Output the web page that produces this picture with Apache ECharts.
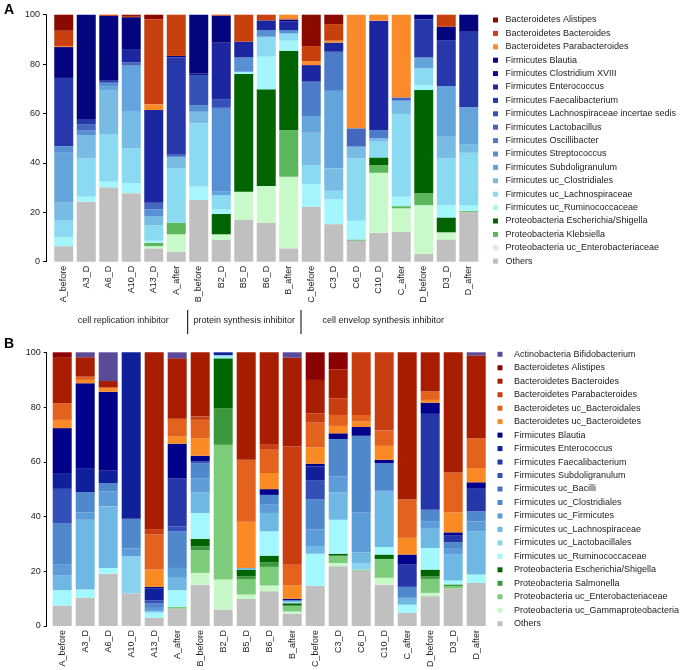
<!DOCTYPE html>
<html>
<head>
<meta charset="utf-8">
<script src="https://cdn.jsdelivr.net/npm/echarts@6/dist/echarts.min.js"></script>
<style>
  html, body { margin: 0; padding: 0; background: #fff; }
  #chart { width: 683px; height: 670px; }
</style>
</head>
<body>
<div id="chart"></div>
<script>
// samples (same for both panels)
const categories = ["A_before", "A3_D", "A6_D", "A10_D", "A13_D", "A_after", "B_before", "B2_D", "B5_D", "B6_D",
  "B_after", "C_before", "C3_D", "C6_D", "C10_D", "C_after", "D_before", "D3_D", "D_after"];
const yTicks = [0, 20, 40, 60, 80, 100];
const groupLabels = ["cell replication inhibitor", "protein synthesis inhibitor", "cell envelop synthesis inhibitor"];

// panel A, relative abundance (%)
const aAlistipes      = [6.5, 0, 0, 0.5, 1.8, 0, 0, 0, 0, 0, 0, 12.7, 3.8, 0, 0, 0, 0, 0, 0];
const aBacteroides    = [6.2, 0, 0.5, 0.5, 34.5, 16.7, 0, 0.4, 10.9, 2.3, 0, 6.1, 6.7, 0, 0, 0, 0, 4.9, 0];
const aParabacteroides = [0.4, 0, 0, 0, 2.3, 0, 0, 0, 0, 0, 1.9, 1.6, 0.8, 46.0, 2.4, 33.5, 0, 0, 0];
const aBlautia        = [12.5, 42.2, 26.0, 12.9, 0, 0.6, 23.8, 10.9, 0, 0, 0.9, 0, 0, 0, 0, 0, 1.9, 5.4, 6.9];
const aClostridium    = [0, 0, 0, 0, 0, 0, 0.6, 0, 0, 0, 0, 0, 0, 0, 0, 0, 0, 0, 0];
const aEnterococcus   = [0, 0, 0, 5.4, 37.5, 0, 0, 23.0, 6.4, 3.9, 3.4, 6.7, 3.7, 0, 44.3, 0, 0, 0, 0];
const aFaecali        = [27.6, 2.1, 1.0, 0, 0, 39.1, 0, 0, 0, 0, 0, 0, 0, 0, 0, 0, 15.4, 18.6, 30.6];
const aLachnoInc      = [0, 0, 0, 0, 0, 0, 12.2, 3.4, 0, 0, 0, 0, 0, 0, 0, 0, 0, 0, 0];
const aLactobacillus  = [0, 2.4, 0, 1.3, 2.7, 1.1, 0, 0, 0, 0, 0, 0, 0, 7.4, 0, 1.3, 0, 0, 0];
const aOscillibacter  = [0, 0, 0, 0, 0, 0, 0, 0, 0, 0, 0, 13.9, 15.8, 0, 3.4, 0, 0, 0, 0];
const aStreptococcus  = [2.7, 2.0, 1.4, 0, 2.7, 0, 2.7, 34.0, 5.8, 2.7, 1.4, 0, 0, 0, 0, 0, 0, 0, 0];
const aSubdo          = [20.2, 0, 1.6, 18.7, 0, 0, 0, 1.3, 0, 0, 0, 6.8, 31.4, 0, 0, 0, 4.4, 20.5, 14.9];
const aUcClos         = [7.0, 9.5, 17.8, 14.8, 3.7, 4.7, 4.7, 0, 0, 0, 0, 13.1, 9.1, 4.8, 1.3, 5.4, 0, 8.8, 3.5];
const aUcLachno       = [7.0, 15.5, 19.3, 14.2, 6.3, 22.0, 25.6, 5.8, 0, 8.1, 2.9, 7.7, 3.5, 25.2, 6.4, 33.5, 6.8, 18.9, 21.2];
const aUcRumino       = [3.6, 2.0, 2.3, 4.0, 0.8, 0, 5.4, 1.9, 0.9, 13.2, 4.1, 9.1, 10.0, 7.6, 0, 3.8, 2.0, 5.0, 2.3];
const aEscherichia    = [0, 0, 0, 0, 0, 0, 0, 8.2, 47.7, 39.2, 32.1, 0, 0, 0, 3.1, 0, 41.8, 6.0, 0];
const aKlebsiella     = [0, 0, 0, 0, 1.4, 4.7, 0, 0, 0, 0, 18.9, 0, 0, 0.5, 3.1, 0.9, 4.8, 0, 0.4];
const aUcEntero       = [0, 0, 0, 0, 0.9, 7.1, 0, 2.3, 11.4, 14.8, 29.0, 0, 0, 0, 24.3, 9.5, 19.8, 2.9, 0];
const aOthers         = [6.3, 24.3, 30.1, 27.7, 5.4, 4.0, 25.0, 8.8, 16.9, 15.8, 5.4, 22.3, 15.2, 8.5, 11.7, 12.1, 3.1, 9.0, 20.2];

// panel B, relative abundance (%)
const bBifido         = [0, 1.8, 10.5, 0, 0, 2.2, 0, 0, 0, 0, 2.0, 0, 0, 0, 0, 0, 0, 0, 1.2];
const bAlistipes      = [2.0, 0, 0, 0, 0, 0, 0, 0, 0, 0, 0, 10.1, 6.2, 0, 0, 0, 0, 0, 0];
const bBacteroides    = [16.6, 7.1, 2.4, 0, 64.6, 22.1, 23.5, 0, 39.3, 33.8, 32.4, 12.2, 10.6, 0, 0, 53.8, 14.3, 43.9, 30.2];
const bParabacteroides = [0, 0, 0, 0, 2.0, 0, 1.2, 0, 0, 1.8, 43.2, 3.4, 6.1, 22.9, 28.6, 0, 0, 0, 0];
const bUcBacteroidales = [6.1, 1.2, 0, 0, 12.8, 6.5, 6.7, 0, 22.6, 8.5, 7.6, 9.1, 4.0, 2.4, 5.6, 14.0, 3.1, 14.6, 10.9];
const bUcBacteroidetes = [3.0, 1.2, 1.5, 0, 6.3, 2.6, 6.4, 0, 16.9, 5.9, 4.9, 5.9, 2.7, 2.0, 5.1, 6.1, 1.0, 7.3, 5.2];
const bBlautia        = [16.7, 31.0, 28.9, 0, 0.5, 12.6, 2.1, 0, 0, 2.1, 0.4, 1.0, 2.1, 3.2, 1.2, 3.7, 4.1, 1.2, 2.1];
const bEnterococcus   = [5.5, 8.8, 4.5, 60.8, 4.4, 0, 0, 1.0, 0, 0, 0, 5.2, 0, 0, 0, 0, 0, 0, 0];
const bFaecali        = [0, 0, 0, 0, 0, 17.6, 0, 0, 0, 0, 0, 0, 0, 0, 0, 8.1, 35.0, 2.4, 8.5];
const bSubdo          = [12.7, 0, 0, 0, 1.2, 1.9, 0.6, 0, 0, 0, 0, 6.9, 0, 0, 0, 0, 0, 0, 0];
const bUcBacilli      = [0, 0, 0, 0, 0, 0, 0, 0, 0, 0, 0, 0, 0, 0, 0, 0, 0, 0, 0];
const bUcClos         = [14.8, 7.4, 3.0, 10.9, 1.6, 13.3, 5.5, 0, 0, 3.6, 0.5, 11.0, 13.7, 28.0, 10.1, 4.0, 4.2, 2.4, 3.7];
const bUcFirm         = [4.2, 2.7, 5.5, 2.8, 1.2, 3.6, 5.2, 0, 0, 3.0, 0, 6.0, 5.8, 14.6, 0, 0, 2.5, 2.1, 3.6];
const bUcLachno       = [5.3, 25.5, 22.5, 0, 0, 4.5, 7.5, 0, 0.6, 6.7, 0.4, 2.8, 10.0, 3.9, 20.5, 2.5, 7.3, 9.5, 15.8];
const bUcLactobac     = [0, 0, 0, 13.6, 0.6, 0, 0, 0.6, 0, 0, 0, 0, 0, 2.4, 0, 0, 0, 0, 0];
const bUcRumino       = [5.6, 3.0, 2.1, 0, 1.8, 6.1, 9.5, 0.6, 0, 8.9, 0.3, 11.7, 12.4, 0, 2.8, 3.0, 7.9, 1.4, 3.1];
const bEscherichia    = [0, 0, 0, 0, 0, 0, 2.7, 18.2, 2.4, 2.4, 0.8, 0, 0.7, 0, 1.6, 0, 2.4, 0, 0];
const bSalmonella     = [0, 0, 0, 0, 0, 0, 1.4, 13.4, 1.2, 1.7, 0.3, 0, 0, 0, 0, 0, 1.0, 0.6, 0];
const bUcEntero       = [0, 0, 0, 0, 0, 0.7, 8.3, 49.2, 5.5, 6.8, 1.9, 0, 2.7, 0.4, 6.9, 0, 5.1, 0.9, 0];
const bUcGamma        = [0, 0, 0, 0, 0, 0, 4.3, 11.0, 1.6, 2.1, 0.8, 0, 1.2, 0, 2.5, 0, 1.2, 0, 0];
const bOthers         = [7.5, 10.3, 19.1, 11.9, 3.0, 6.3, 15.1, 6.0, 9.9, 12.7, 4.5, 14.7, 21.8, 20.2, 15.1, 4.8, 10.9, 13.7, 15.7];

// legend order (top to bottom = top of stack to bottom)
const taxaA = [
  ["Bacteroidetes Alistipes", aAlistipes, "#8b0a00"],
  ["Bacteroidetes Bacteroides", aBacteroides, "#c8400e"],
  ["Bacteroidetes Parabacteroides", aParabacteroides, "#fb8a2a"],
  ["Firmicutes Blautia", aBlautia, "#04047e"],
  ["Firmicutes Clostridium XVIII", aClostridium, "#0a0a92"],
  ["Firmicutes Enterococcus", aEnterococcus, "#1b26a0"],
  ["Firmicutes Faecalibacterium", aFaecali, "#2638aa"],
  ["Firmicutes Lachnospiraceae incertae sedis", aLachnoInc, "#3552b8"],
  ["Firmicutes Lactobacillus", aLactobacillus, "#4468c0"],
  ["Firmicutes Oscillibacter", aOscillibacter, "#4c7cc8"],
  ["Firmicutes Streptococcus", aStreptococcus, "#5890d4"],
  ["Firmicutes Subdoligranulum", aSubdo, "#64a4dc"],
  ["Firmicutes uc_Clostridiales", aUcClos, "#78bce6"],
  ["Firmicutes uc_Lachnospiraceae", aUcLachno, "#8adaf2"],
  ["Firmicutes uc_Ruminococcaceae", aUcRumino, "#a4f6fc"],
  ["Proteobacteria Escherichia/Shigella", aEscherichia, "#006400"],
  ["Proteobacteria Klebsiella", aKlebsiella, "#5cb65c"],
  ["Proteobacteria uc_Enterobacteriaceae", aUcEntero, "#c8f9c8"],
  ["Others", aOthers, "#c0c0c0"]
];
const taxaB = [
  ["Actinobacteria Bifidobacterium", bBifido, "#5a4a98"],
  ["Bacteroidetes Alistipes", bAlistipes, "#8b0000"],
  ["Bacteroidetes Bacteroides", bBacteroides, "#a81c00"],
  ["Bacteroidetes Parabacteroides", bParabacteroides, "#c83e10"],
  ["Bacteroidetes uc_Bacteroidales", bUcBacteroidales, "#e2621e"],
  ["Bacteroidetes uc_Bacteroidetes", bUcBacteroidetes, "#fa8a24"],
  ["Firmicutes Blautia", bBlautia, "#00008b"],
  ["Firmicutes Enterococcus", bEnterococcus, "#10209a"],
  ["Firmicutes Faecalibacterium", bFaecali, "#2536a8"],
  ["Firmicutes Subdoligranulum", bSubdo, "#3350b8"],
  ["Firmicutes uc_Bacilli", bUcBacilli, "#4674c4"],
  ["Firmicutes uc_Clostridiales", bUcClos, "#5088cc"],
  ["Firmicutes uc_Firmicutes", bUcFirm, "#5c9cd8"],
  ["Firmicutes uc_Lachnospiraceae", bUcLachno, "#70b8e4"],
  ["Firmicutes uc_Lactobacillales", bUcLactobac, "#88d4f0"],
  ["Firmicutes uc_Ruminococcaceae", bUcRumino, "#a2f8fc"],
  ["Proteobacteria Escherichia/Shigella", bEscherichia, "#006400"],
  ["Proteobacteria Salmonella", bSalmonella, "#3c983c"],
  ["Proteobacteria uc_Enterobacteriaceae", bUcEntero, "#7ccc7c"],
  ["Proteobacteria uc_Gammaproteobacteria", bUcGamma, "#c8f8c8"],
  ["Others", bOthers, "#c0c0c0"]
];

const FONT = "Liberation Sans, Arial, sans-serif";
const chart = echarts.init(document.getElementById("chart"), null, { renderer: "canvas" });

function makeSeries(taxa, idx, suffix) {
  // bottom of stack first
  return taxa.slice().reverse().map(t => ({
    name: t[0] + suffix,
    type: "bar",
    stack: "s" + idx,
    xAxisIndex: idx,
    yAxisIndex: idx,
    barWidth: 19,
    data: t[1],
    itemStyle: { color: t[2] },
    emphasis: { disabled: true },
    animation: false
  }));
}

function yAxis(idx, offset) {
  return {
    gridIndex: idx,
    type: "value",
    min: yTicks[0],
    max: yTicks[yTicks.length - 1],
    interval: 20,
    offset: offset,
    splitLine: { show: false },
    axisLine: { show: true, lineStyle: { color: "#000", width: 1 } },
    axisTick: { show: true, length: 3, lineStyle: { color: "#000" } },
    axisLabel: { fontSize: 9, color: "#222", fontFamily: FONT, margin: 6 }
  };
}

function xAxis(idx) {
  return {
    gridIndex: idx,
    type: "category",
    data: categories,
    axisLine: { show: false },
    axisTick: { show: false },
    axisLabel: { rotate: 90, interval: 0, fontSize: 9, color: "#222", fontFamily: FONT, margin: 4 }
  };
}

function legend(taxa, left, top, gap, pad, suffix) {
  return {
    orient: "vertical",
    left: left,
    top: top,
    padding: 0,
    itemGap: gap,
    itemWidth: 5,
    itemHeight: 5,
    icon: "rect",
    selectedMode: false,
    data: taxa.map(t => t[0] + suffix),
    formatter: n => n.trim(),
    textStyle: { fontSize: 9, color: "#222", fontFamily: FONT, lineHeight: 12, padding: [0, 0, 0, pad] }
  };
}

const options = {
  animation: false,
  grid: [
    { left: 52.5, width: 427.5, top: 14.7, height: 247 },
    { left: 50.7, width: 437, top: 352.3, height: 274.2 }
  ],
  xAxis: [xAxis(0), xAxis(1)],
  yAxis: [yAxis(0, 6.5), yAxis(1, 4)],
  legend: [
    legend(taxaA, 493, 14, 1.4, 2.5, ""),
    legend(taxaB, 497.5, 348.3, 1.47, 6.5, " ")
  ],
  series: makeSeries(taxaA, 0, "").concat(makeSeries(taxaB, 1, " ")),
  graphic: [
    { type: "text", left: 4, top: 3, style: { text: "A", font: "bold 14px " + FONT, fill: "#000" } },
    { type: "text", left: 4, top: 337, style: { text: "B", font: "bold 14px " + FONT, fill: "#000" } },
    { type: "text", x: 123.3, y: 321, style: { text: groupLabels[0], font: "9px " + FONT, fill: "#222", textAlign: "center", textVerticalAlign: "middle" } },
    { type: "text", x: 244.3, y: 321, style: { text: groupLabels[1], font: "9px " + FONT, fill: "#222", textAlign: "center", textVerticalAlign: "middle" } },
    { type: "text", x: 383.3, y: 321, style: { text: groupLabels[2], font: "9px " + FONT, fill: "#222", textAlign: "center", textVerticalAlign: "middle" } },
    { type: "line", shape: { x1: 187.7, y1: 310, x2: 187.7, y2: 334 }, style: { stroke: "#000", lineWidth: 1 } },
    { type: "line", shape: { x1: 301, y1: 310, x2: 301, y2: 334 }, style: { stroke: "#000", lineWidth: 1 } }
  ]
};

chart.setOption(options);
window.addEventListener("resize", function() {
  chart.resize();
});
</script>
</body>
</html>
